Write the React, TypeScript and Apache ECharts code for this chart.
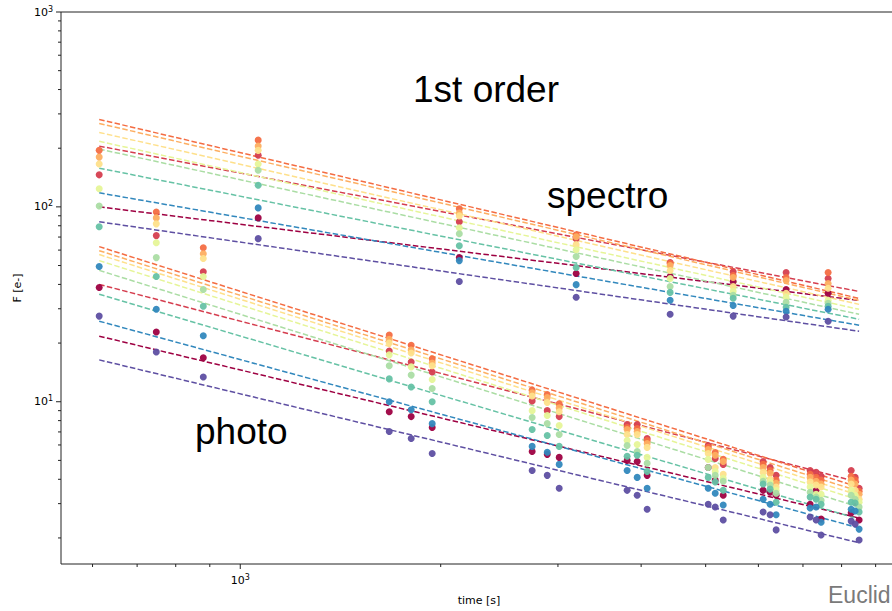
import React, { useEffect, useRef } from "react";
import * as echarts from "echarts";

// Exposure times [s] of every frame column
const TIMES = [614, 748, 880, 1064, 1674, 1806, 1942, 2133, 2744, 2891, 3013, 3195, 3811, 3946, 4084, 4422, 5044, 5168, 5313, 5499, 6099, 6249, 6380, 6604, 7176, 7326, 7454, 7637, 8270, 8385, 8500];

// Measured flux [e-] per source, one value per frame column
const F_DARKRED = [38.6, 22.8, 16.8, 87.8, 8.89, 8.39, 7.37, 54.9, 5.56, 5.37, 5.18, 45.5, 5.0, 4.94, 4.19, 43.9, 4.6, 3.96, 3.31, 41.4, 3.51, 3.43, 3.31, 37.7, 2.98, 3.51, 2.5, 36.0, 2.69, 3.05, 2.47];
const F_RED = [146, 71.2, 46.5, 184, 18.2, 16.0, 14.2, 83.8, 10.1, 9.0, 8.39, 68.7, 7.64, 7.64, 6.47, 51.8, 5.96, 5.12, 4.77, 46.5, 4.94, 4.6, 4.19, 46.0, 4.44, 4.34, 4.14, 42.9, 4.44, 4.09, 3.6];
const F_ORANGE = [195, 94.2, 61.7, 220, 22.0, 19.5, 16.6, 97.7, 11.5, 10.9, 9.77, 72.0, 7.37, 7.29, 6.32, 51.2, 5.83, 5.49, 5.06, 44.4, 4.77, 4.44, 3.96, 43.4, 4.24, 4.09, 3.96, 46.0, 4.14, 3.96, 3.47];
const F_LIGHTORANGE = [180, 87.8, 57.5, 205, 20.9, 18.4, 15.8, 93.1, 11.1, 10.5, 9.3, 70.3, 7.2, 7.03, 6.1, 50.0, 5.69, 5.31, 4.94, 43.4, 4.6, 4.29, 3.82, 41.9, 4.09, 3.91, 3.78, 40.4, 3.96, 3.78, 3.35];
const F_YELLOW = [166, 81.8, 54.3, 195, 20.0, 17.8, 15.3, 89.9, 10.7, 9.9, 8.89, 64.0, 6.79, 6.79, 5.83, 47.1, 5.43, 4.6, 4.24, 39.0, 4.34, 4.0, 3.65, 36.0, 3.87, 3.74, 3.65, 38.2, 3.78, 3.51, 3.16];
const F_LIGHTGREEN = [124, 65.5, 43.9, 166, 17.4, 15.1, 13.0, 78.1, 9.0, 8.5, 7.55, 60.3, 6.32, 6.03, 5.18, 42.9, 5.06, 4.39, 4.05, 36.9, 4.09, 3.87, 3.51, 34.4, 3.65, 3.35, 3.35, 33.2, 3.51, 3.31, 3.05];
const F_GREEN = [101, 54.9, 37.7, 154, 15.3, 13.7, 11.7, 72.8, 8.3, 7.73, 6.79, 55.6, 5.96, 5.56, 4.83, 39.0, 4.6, 4.19, 3.91, 35.2, 3.91, 3.74, 3.39, 32.4, 3.43, 3.24, 3.12, 32.0, 3.31, 3.16, 2.88];
const F_TEAL = [79, 43.9, 30.9, 129, 13.1, 11.9, 10.0, 63.2, 7.2, 6.71, 5.9, 48.9, 5.25, 5.31, 4.39, 36.4, 4.09, 3.87, 3.51, 34.0, 3.78, 3.56, 3.05, 30.5, 3.24, 3.16, 2.98, 30.9, 3.05, 3.02, 2.72];
const F_BLUE = [49.4, 29.8, 21.8, 98.8, 10.0, 9.1, 7.72, 53.0, 5.9, 5.5, 4.77, 39.9, 4.44, 4.09, 3.6, 33.2, 3.6, 3.39, 2.95, 31.2, 3.16, 2.98, 2.63, 29.1, 2.85, 2.88, 2.41, 29.8, 2.81, 2.75, 2.22];
const F_PURPLE = [27.5, 18.0, 13.4, 68.7, 7.03, 6.47, 5.43, 41.4, 4.44, 4.19, 3.6, 34.4, 3.51, 3.31, 2.81, 28.1, 2.98, 2.88, 2.47, 27.5, 2.72, 2.63, 2.2, 27.2, 2.56, 2.47, 2.07, 25.9, 2.44, 2.36, 1.95];

const COLORS = ["#9e0142", "#d53e4f", "#f46d43", "#fdae61", "#fee08b", "#e6f598", "#abdda4", "#66c2a5", "#3288bd", "#5e4fa2"];
const FLUXES = [F_DARKRED, F_RED, F_ORANGE, F_LIGHTORANGE, F_YELLOW, F_LIGHTGREEN, F_GREEN, F_TEAL, F_BLUE, F_PURPLE];

// Power-law fits, evaluated at the first and last time of the fit range
const FIT_T = [614, 8500];
const SPECTRO_FIT_START = [100, 205, 281, 268, 241, 217, 198, 158, 118, 83.8];
const SPECTRO_FIT_END = [33.1, 36.8, 33.9, 33.1, 31.6, 29.8, 28.1, 26.5, 24.7, 23.0];
const PHOTO_FIT_START = [21.7, 40.0, 62.5, 59.6, 56.9, 53.0, 47.2, 35.6, 25.9, 16.4];
const PHOTO_FIT_END = [2.53, 3.86, 3.64, 3.47, 3.31, 3.13, 2.88, 2.5, 2.25, 1.89];

// Axis limits and tick positions
const X_MIN = 538;
const X_MAX = 9690;
const Y_MIN = 1.47;
const Y_MAX = 1000;
const X_MAJOR = [1000];
const X_MINOR = [600, 700, 800, 900, 2000, 3000, 4000, 5000, 6000, 7000, 8000, 9000];
const Y_MAJOR = [10, 100, 1000];
const Y_MINOR = [2, 3, 4, 5, 6, 7, 8, 9, 20, 30, 40, 50, 60, 70, 80, 90, 200, 300, 400, 500, 600, 700, 800, 900];

const TICK_FONT = "DejaVu Sans, sans-serif";
const BIG_FONT = "Liberation Sans, Arial, sans-serif";

function powLabel(v: number): string {
  const e = Math.log10(v);
  if (Math.abs(e - Math.round(e)) > 1e-3) return "";
  return `{b|10}{s|${Math.round(e)}}`;
}

const richSup = {
  b: { fontSize: 11, fontFamily: TICK_FONT, color: "#000" },
  s: { fontSize: 8, fontFamily: TICK_FONT, color: "#000", verticalAlign: "bottom", padding: [0, 0, 6, 0] },
};

export default function App() {
  const ref = useRef<HTMLDivElement>(null);

  useEffect(() => {
    if (!ref.current) return;
    const chart = echarts.init(ref.current, null, { renderer: "svg" });

    const fitSeries: any[] = [];
    COLORS.forEach((c, i) => {
      fitSeries.push({
        type: "line",
        data: [[FIT_T[0], SPECTRO_FIT_START[i]], [FIT_T[1], SPECTRO_FIT_END[i]]],
        symbol: "none",
        lineStyle: { color: c, width: 1.5, type: [5.5, 2.4] },
        z: 2,
        silent: true,
      });
      fitSeries.push({
        type: "line",
        data: [[FIT_T[0], PHOTO_FIT_START[i]], [FIT_T[1], PHOTO_FIT_END[i]]],
        symbol: "none",
        lineStyle: { color: c, width: 1.5, type: [5.5, 2.4] },
        z: 2,
        silent: true,
      });
    });

    const pointSeries = COLORS.map((c, i) => ({
      type: "scatter",
      data: TIMES.map((t, j) => [t, FLUXES[i][j]]),
      symbol: "circle",
      symbolSize: 7,
      itemStyle: { color: c, opacity: 0.95 },
      z: 3,
      silent: true,
    }));

    const xTickData = [
      ...X_MAJOR.map((v) => [v, Y_MIN, 5]),
      ...X_MINOR.map((v) => [v, Y_MIN, 3]),
    ];
    const yTickData = [
      ...Y_MAJOR.map((v) => [X_MIN, v, 5]),
      ...Y_MINOR.map((v) => [X_MIN, v, 3]),
    ];

    const tickSeries: any[] = [
      {
        type: "custom",
        clip: false,
        silent: true,
        z: 5,
        data: xTickData,
        encode: { x: 0, y: 1 },
        renderItem: (_p: any, api: any) => {
          const pt = api.coord([api.value(0), api.value(1)]);
          const len = api.value(2);
          return {
            type: "line",
            shape: { x1: pt[0], y1: pt[1], x2: pt[0], y2: pt[1] + len },
            style: { stroke: "#222", lineWidth: 1 },
          };
        },
      },
      {
        type: "custom",
        clip: false,
        silent: true,
        z: 5,
        data: yTickData,
        encode: { x: 0, y: 1 },
        renderItem: (_p: any, api: any) => {
          const pt = api.coord([api.value(0), api.value(1)]);
          const len = api.value(2);
          return {
            type: "line",
            shape: { x1: pt[0], y1: pt[1], x2: pt[0] - len, y2: pt[1] },
            style: { stroke: "#222", lineWidth: 1 },
          };
        },
      },
    ];

    chart.setOption({
      animation: false,
      backgroundColor: "#fff",
      grid: {
        left: 61,
        right: 23,
        top: 12,
        bottom: 44,
        show: true,
        borderColor: "#222",
        borderWidth: 1,
        backgroundColor: "transparent",
      },
      xAxis: {
        type: "log",
        logBase: 10,
        min: X_MIN,
        max: X_MAX,
        axisLine: { show: false },
        axisTick: { show: false },
        splitLine: { show: false },
        minorTick: { show: false },
        axisLabel: {
          margin: 9,
          showMinLabel: true,
          showMaxLabel: true,
          formatter: powLabel,
          rich: richSup,
        },
        name: "time [s]",
        nameLocation: "middle",
        nameGap: 31,
        nameTextStyle: { fontSize: 11, fontFamily: TICK_FONT, color: "#000" },
      },
      yAxis: {
        type: "log",
        logBase: 10,
        min: Y_MIN,
        max: Y_MAX,
        axisLine: { show: false },
        axisTick: { show: false },
        splitLine: { show: false },
        minorTick: { show: false },
        axisLabel: {
          margin: 8,
          showMinLabel: true,
          showMaxLabel: true,
          formatter: powLabel,
          rich: richSup,
        },
        name: "F [e-]",
        nameLocation: "middle",
        nameGap: 37,
        nameTextStyle: { fontSize: 11, fontFamily: TICK_FONT, color: "#000" },
      },
      graphic: [
        {
          type: "text",
          left: 413,
          top: 71,
          style: { text: "1st order", font: `37px ${BIG_FONT}`, fill: "#000" },
          z: 10,
        },
        {
          type: "text",
          left: 547,
          top: 177,
          style: { text: "spectro", font: `37px ${BIG_FONT}`, fill: "#000" },
          z: 10,
        },
        {
          type: "text",
          left: 195,
          top: 413,
          style: { text: "photo", font: `37px ${BIG_FONT}`, fill: "#000" },
          z: 10,
        },
        {
          type: "text",
          left: 828,
          top: 583,
          style: { text: "Euclid", font: `23px ${BIG_FONT}`, fill: "#7a7a7a" },
          z: 10,
        },
      ],
      series: [...fitSeries, ...pointSeries, ...tickSeries],
    });

    return () => chart.dispose();
  }, []);

  return (
    <div style={{ position: "fixed", left: 0, top: 0, width: 892, height: 611, overflow: "hidden", background: "#fff" }}>
      <div ref={ref} style={{ width: 920, height: 611 }} />
    </div>
  );
}
